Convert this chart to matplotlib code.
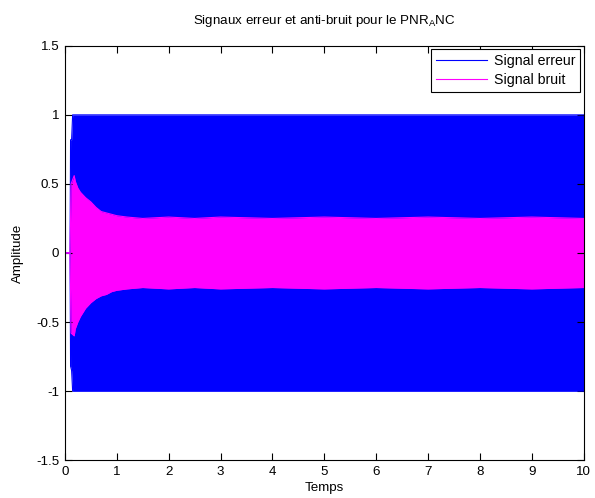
import matplotlib
matplotlib.use('Agg')
import matplotlib.pyplot as plt

plt.rcParams['font.family'] = ['Liberation Sans', 'DejaVu Sans']
plt.rcParams['mathtext.default'] = 'regular'
plt.rcParams['font.size'] = 9.6

# envelope (time, upper, lower)
t_err = [0.0, 0.10, 0.11, 0.13, 0.15, 10.0]
err_hi = [0.0, 0.0, 0.82, 0.82, 1.0, 1.0]
err_lo = [0.0, 0.0, -0.82, -0.85, -1.0, -1.0]

t_bruit = [0.0, 0.10, 0.12, 0.18, 0.20, 0.25, 0.30, 0.40, 0.50, 0.60, 0.70, 0.80,
           0.90, 1.00, 1.20, 1.50, 2.00, 2.50, 3.00, 4.00, 5.00, 6.00, 7.00,
           8.00, 9.00, 10.0]
bruit_hi = [0.0, 0.0, 0.50, 0.56, 0.52, 0.47, 0.44, 0.40, 0.37, 0.33, 0.30, 0.29,
            0.28, 0.27, 0.26, 0.25, 0.26, 0.25, 0.26, 0.25, 0.26, 0.25, 0.26,
            0.25, 0.26, 0.25]
bruit_lo = [0.0, 0.0, -0.58, -0.60, -0.55, -0.50, -0.46, -0.40, -0.36, -0.33, -0.31, -0.30,
            -0.28, -0.27, -0.26, -0.25, -0.26, -0.25, -0.26, -0.25, -0.26, -0.25, -0.26,
            -0.25, -0.26, -0.25]

blue = '#0000ff'
magenta = '#ff00ff'

fig = plt.figure(figsize=(5.95, 4.98), dpi=100)
ax = fig.add_axes([0.109, 0.076, 0.872, 0.832])

ax.fill_between(t_err, err_lo, err_hi, color=blue, lw=0)
ax.plot(t_err, err_hi, color=blue, lw=0.8, label='Signal erreur')
ax.plot(t_err, err_lo, color=blue, lw=0.8)
ax.fill_between(t_bruit, bruit_lo, bruit_hi, color=magenta, lw=0)
ax.plot(t_bruit, bruit_hi, color=magenta, lw=0.8, label='Signal bruit')
ax.plot(t_bruit, bruit_lo, color=magenta, lw=0.8)

ax.set_xlim(0, 10)
ax.set_ylim(-1.5, 1.5)
ax.set_xticks(range(0, 11))
ax.set_yticks([-1.5, -1, -0.5, 0, 0.5, 1, 1.5])
ax.set_yticklabels(['-1.5', '-1', '-0.5', '0', '0.5', '1', '1.5'])
ax.tick_params(direction='in', top=True, right=True, length=5, width=0.8)
ax.tick_params(axis='x', pad=4)
ax.tick_params(axis='y', pad=4)
for s in ax.spines.values():
    s.set_linewidth(0.8)

ax.set_title('Signaux erreur et anti-bruit pour le PNR$_{A}$NC', fontsize=9.6, pad=16)
ax.set_xlabel('Temps', labelpad=3)
ax.set_ylabel('Amplitude', labelpad=9)

leg = ax.legend(loc='upper right', fancybox=False, framealpha=1, edgecolor='black',
                fontsize=10.2, handlelength=3.6, borderaxespad=0.25, labelspacing=0.35,
                handletextpad=0.5, borderpad=0.35)
leg.get_frame().set_linewidth(0.8)

fig.savefig('out.png', dpi=100)
